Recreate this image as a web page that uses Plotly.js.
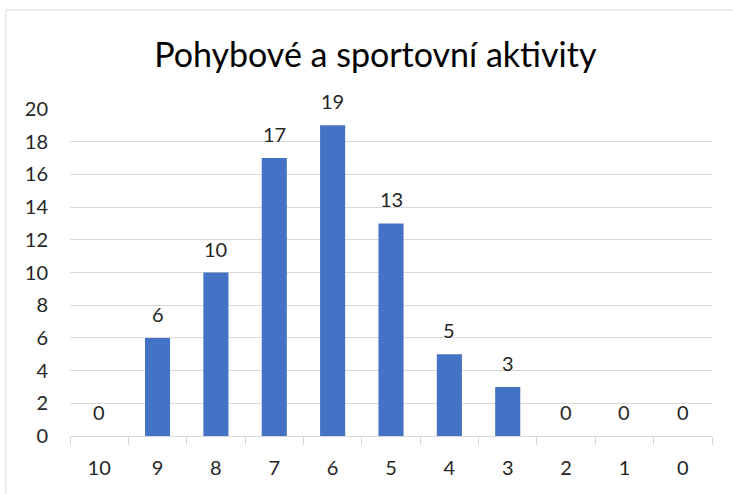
<!DOCTYPE html>
<html>
<head>
<meta charset="utf-8">
<script src="https://cdn.plot.ly/plotly-3.0.1.min.js"></script>
<style>
  body { margin: 0; background: white; }
  #chart { width: 733px; height: 494px; }
</style>
</head>
<body>
<div id="chart"></div>
<script>
var categories = ["10", "9", "8", "7", "6", "5", "4", "3", "2", "1", "0"];
var counts = [0, 6, 10, 17, 19, 13, 5, 3, 0, 0, 0];
var yTicks = [0, 2, 4, 6, 8, 10, 12, 14, 16, 18, 20];

var barColor = "#4472C4";
var gridColor = "#d9d9d9";
var textColor = "#262626";
var fontFamily = "Lato, 'Open Sans', sans-serif";

var traceBars = {
  type: "bar",
  x: categories,
  y: counts,
  marker: { color: barColor },
  hoverinfo: "skip",
};

// data labels above each bar (x by category index, the axis is categorical)
var labels = categories.map(function (c, i) {
  return {
    x: i,
    y: counts[i],
    xref: "x",
    yref: "y",
    text: String(counts[i]),
    showarrow: false,
    yanchor: "middle",
    yshift: 24,
    font: { size: 20, color: textColor, family: fontFamily },
  };
});

var layout = {
  width: 733,
  height: 494,
  margin: { l: 70, r: 21, t: 109, b: 58 },
  paper_bgcolor: "white",
  plot_bgcolor: "white",
  showlegend: false,
  bargap: 0.57,
  font: { family: fontFamily, color: textColor, size: 20 },
  title: {
    text: "Pohybové a sportovní aktivity",
    font: { size: 34, color: "#000000", family: fontFamily },
    x: 0.512,
    xanchor: "center",
    y: 0.889,
    yanchor: "middle",
    xref: "container",
    yref: "container",
  },
  xaxis: {
    type: "category",
    showgrid: false,
    showline: true,
    linecolor: gridColor,
    linewidth: 1,
    ticks: "outside",
    tickson: "boundaries",
    ticklen: 8,
    tickcolor: gridColor,
    ticklabelstandoff: 14,
    tickfont: { size: 20, color: textColor },
    fixedrange: true,
  },
  yaxis: {
    range: [0, 20],
    tickvals: yTicks,
    showgrid: true,
    gridcolor: gridColor,
    gridwidth: 1,
    zeroline: false,
    showline: false,
    ticks: "outside",
    ticklen: 17,
    tickcolor: "rgba(0,0,0,0)",
    tickfont: { size: 20, color: textColor },
    fixedrange: true,
  },
  annotations: labels,
  shapes: [
    {
      type: "rect",
      xref: "paper",
      yref: "paper",
      x0: -0.0997,
      x1: 1.1,
      y0: -0.3,
      y1: 1.303,
      line: { color: gridColor, width: 1 },
      layer: "below",
    },
  ],
};

var config = {
  staticPlot: true,
  displayModeBar: false,
};

Plotly.newPlot("chart", [traceBars], layout, config);
</script>
</body>
</html>
